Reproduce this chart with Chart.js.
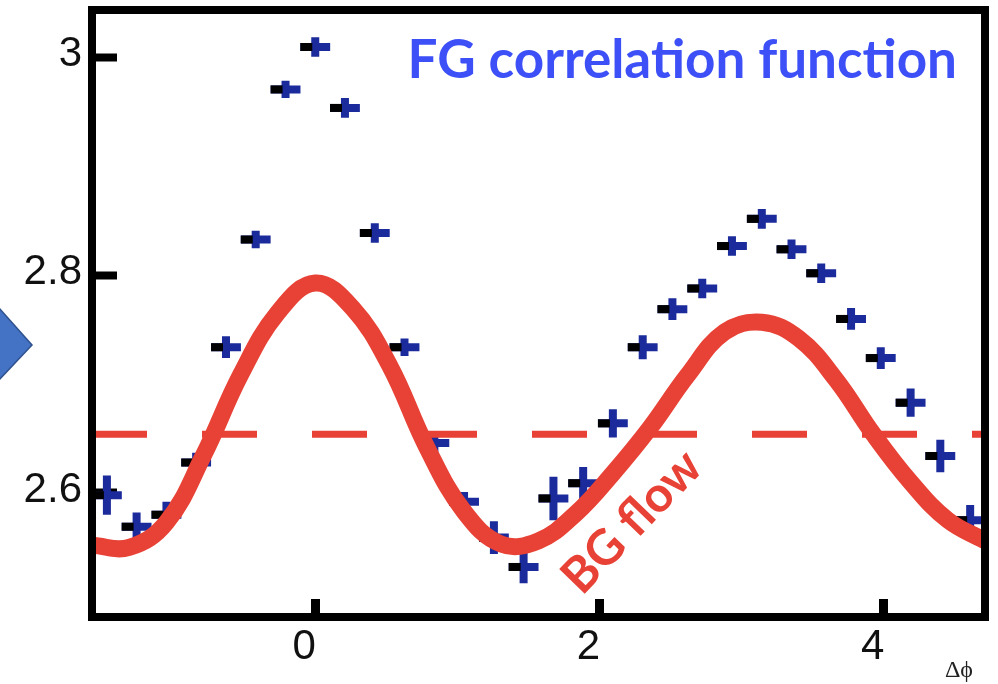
<!DOCTYPE html>
<html>
<head>
<meta charset="utf-8">
<script src="https://cdn.jsdelivr.net/npm/chart.js@4.4.1/dist/chart.umd.min.js"></script>
<style>
  html, body { margin: 0; padding: 0; background: #fff; }
</style>
</head>
<body>
<canvas id="corrChart" width="998" height="684"></canvas>
<script>
// FG correlation function: bin centres (rad), values, vertical errors
const fgPhi = [
  -1.466, -1.257, -1.047, -0.838, -0.628, -0.419, -0.209, 0.000, 0.209, 0.419,
  0.628, 0.838, 1.047, 1.257, 1.466, 1.676, 1.885, 2.094, 2.304, 2.513,
  2.723, 2.932, 3.142, 3.351, 3.560, 3.770, 3.979, 4.189, 4.398, 4.608
];
const fgValues = [
  2.598, 2.569, 2.580, 2.628, 2.734, 2.833, 2.971, 3.010, 2.954, 2.839,
  2.734, 2.646, 2.592, 2.559, 2.532, 2.595, 2.609, 2.664, 2.734, 2.769,
  2.788, 2.827, 2.852, 2.824, 2.802, 2.760, 2.724, 2.683, 2.634, 2.575
];
const fgErrors = [
  0.018, 0.013, 0.012, 0.009, 0.010, 0.008, 0.008, 0.009, 0.009, 0.009,
  0.008, 0.009, 0.009, 0.015, 0.015, 0.020, 0.015, 0.013, 0.011, 0.010,
  0.009, 0.009, 0.009, 0.009, 0.009, 0.010, 0.010, 0.013, 0.015, 0.014
];
const binHalfWidth = 0.105;

// BG flow curve
const bgPhi = [
  -1.571, -1.309, -1.047, -0.785, -0.524, -0.262, 0.000, 0.262, 0.524, 0.785,
  1.047, 1.309, 1.571, 1.833, 2.094, 2.356, 2.618, 2.880, 3.142, 3.403,
  3.665, 3.927, 4.189, 4.451, 4.712
];
const bgValues = [
  2.552, 2.550, 2.573, 2.635, 2.709, 2.766, 2.793, 2.770, 2.717, 2.642,
  2.583, 2.553, 2.556, 2.581, 2.618, 2.660, 2.708, 2.748, 2.757, 2.742,
  2.704, 2.654, 2.610, 2.575, 2.556
];
const bgLevel = 2.654;

const xTicks = [0, 2, 4];
const yTicks = [2.6, 2.8, 3];
const xRange = [-1.5708, 4.7124];
const yRange = [2.486, 3.044];

const RED = "#e84135";
const NAVY = "#1b2b9b";
const BLUE_TEXT = "#3d50f7";

const decor = {
  id: "decor",
  beforeDraw(chart) {
    // piece of the slide arrow on the left
    const ctx = chart.ctx;
    ctx.save();
    ctx.beginPath();
    ctx.moveTo(-2, 307);
    ctx.lineTo(32, 345);
    ctx.lineTo(-2, 381);
    ctx.closePath();
    ctx.fillStyle = "#4472c4";
    ctx.fill();
    ctx.strokeStyle = "#2f528f";
    ctx.lineWidth = 1.5;
    ctx.stroke();
    ctx.restore();
  },
  beforeDatasetsDraw(chart) {
    const ctx = chart.ctx;
    const xs = chart.scales.x;
    const ys = chart.scales.y;
    const area = chart.chartArea;
    ctx.save();
    ctx.beginPath();
    ctx.rect(area.left, area.top, area.right - area.left, area.bottom - area.top);
    ctx.clip();
    ctx.lineCap = "butt";
    ctx.lineWidth = 8;
    fgPhi.forEach((phi, i) => {
      const xc = xs.getPixelForValue(phi);
      const yc = ys.getPixelForValue(fgValues[i]);
      const xl = xs.getPixelForValue(phi - binHalfWidth);
      const xr = xs.getPixelForValue(phi + binHalfWidth);
      const yt = ys.getPixelForValue(fgValues[i] + fgErrors[i]);
      const yb = ys.getPixelForValue(fgValues[i] - fgErrors[i]);
      ctx.strokeStyle = NAVY;
      ctx.beginPath();
      ctx.moveTo(xl, yc);
      ctx.lineTo(xr, yc);
      ctx.moveTo(xc, yt);
      ctx.lineTo(xc, yb);
      ctx.stroke();
      ctx.strokeStyle = "#000";
      ctx.beginPath();
      ctx.moveTo(xl, yc);
      ctx.lineTo(xl + (xc - xl) * 0.8, yc);
      ctx.stroke();
    });
    ctx.restore();
  },
  afterDraw(chart) {
    const ctx = chart.ctx;
    const a = chart.chartArea;
    ctx.save();
    ctx.strokeStyle = "#000";
    ctx.lineWidth = 8;
    ctx.strokeRect(a.left, a.top, a.right - a.left, a.bottom - a.top);

    ctx.fillStyle = BLUE_TEXT;
    ctx.font = "bold 53px Lato";
    ctx.textAlign = "right";
    ctx.textBaseline = "alphabetic";
    ctx.fillText("FG correlation function", 957, 78);

    ctx.fillStyle = "#222";
    ctx.font = "24px 'Liberation Serif'";
    ctx.fillText("Δϕ", 973, 677);

    ctx.translate(632, 522);
    ctx.rotate(-46 * Math.PI / 180);
    ctx.fillStyle = RED;
    ctx.font = "bold 49px Lato";
    ctx.textAlign = "center";
    ctx.textBaseline = "middle";
    ctx.fillText("BG flow", 0, 0);
    ctx.restore();
  }
};

const tickFont = { family: "'Liberation Sans', Arial, sans-serif", size: 42 };

const noEdgePadding = (s) => {
  s.paddingTop = 0;
  s.paddingBottom = 0;
  s.paddingLeft = 0;
  s.paddingRight = 0;
};

new Chart(document.getElementById("corrChart"), {
  type: "scatter",
  data: {
    datasets: [
      {
        label: "BG flow",
        type: "line",
        data: bgPhi.map((x, i) => ({ x: x, y: bgValues[i] })),
        borderColor: RED,
        borderWidth: 17,
        pointRadius: 0,
        tension: 0.4,
        fill: false,
        order: 1,
      },
      {
        label: "level",
        type: "line",
        data: [
          { x: xRange[0], y: bgLevel },
          { x: xRange[1], y: bgLevel },
        ],
        borderColor: RED,
        borderWidth: 7,
        borderDash: [55, 55],
        borderCapStyle: "butt",
        pointRadius: 0,
        fill: false,
        order: 2,
      },
      {
        label: "FG",
        data: fgPhi.map((x, i) => ({ x: x, y: fgValues[i] })),
        pointRadius: 0,
        order: 3,
      },
    ],
  },
  options: {
    responsive: false,
    animation: false,
    layout: { padding: { top: 10, right: 13, left: 0, bottom: 0 } },
    plugins: {
      legend: { display: false },
      tooltip: { enabled: false },
    },
    scales: {
      x: {
        type: "linear",
        min: xRange[0],
        max: xRange[1],
        afterBuildTicks: (s) => {
          s.ticks = xTicks.map((v) => ({ value: v }));
        },
        afterFit: (s) => {
          s.height = 67;
          noEdgePadding(s);
        },
        border: { display: false },
        grid: {
          drawOnChartArea: false,
          drawTicks: true,
          tickLength: -18,
          tickWidth: 9,
          tickColor: "#000",
        },
        ticks: {
          padding: 23,
          labelOffset: -11,
          font: tickFont,
          color: "#111",
          maxRotation: 0,
          autoSkip: false,
          callback: (v) => v,
        },
      },
      y: {
        min: yRange[0],
        max: yRange[1],
        afterBuildTicks: (s) => {
          s.ticks = yTicks.map((v) => ({ value: v }));
        },
        afterFit: (s) => {
          s.width = 92;
          noEdgePadding(s);
        },
        border: { display: false },
        grid: {
          drawOnChartArea: false,
          drawTicks: true,
          tickLength: -25,
          tickWidth: 8,
          tickColor: "#000",
        },
        ticks: {
          padding: 35,
          labelOffset: -3,
          font: tickFont,
          color: "#111",
          autoSkip: false,
          callback: (v) => v,
        },
      },
    },
  },
  plugins: [decor],
});
</script>
</body>
</html>
